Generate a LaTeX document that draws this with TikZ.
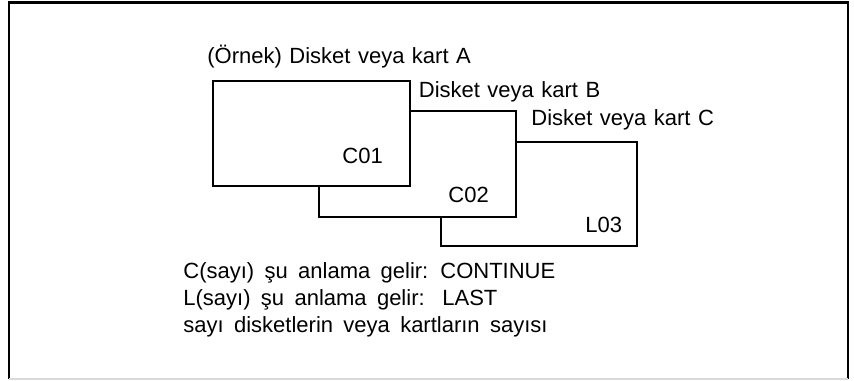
\documentclass[tikz,border=0pt]{standalone}
\usepackage{fontspec}
\setmainfont{Liberation Sans}
\newcommand\labfont{\fontsize{11}{13.5}\selectfont\spaceskip=0.34em\relax}
\newcommand\notefont{\fontsize{11}{13.5}\selectfont\spaceskip=0.47em\relax}
\begin{document}
\begin{tikzpicture}[x=0.5pt,y=-0.5pt,
 card/.style={draw,line width=1.3pt,fill=white},
 lab/.style={anchor=base west,inner sep=0pt,font=\labfont},
 note/.style={lab,font=\notefont}]
\useasboundingbox (0,0) rectangle (854,380);
% frame
\draw[line width=1.2pt] (9,379) -- (9,2.5) -- (848,2.5) -- (848,379);
\draw[black!15,line width=1pt] (9,379) -- (848,379);
% cards, back to front
\draw[card] (441,142) rectangle (637,246);
\draw[card] (319,111) rectangle (516,217);
\draw[card] (213,81) rectangle (410,186);
\node[lab] (labA) at (207,63) {(Örnek) Disket veya kart A};
\node[lab] (labB) at (418.5,97.5) {Disket veya kart B};
\node[lab] (labC) at (531,125) {Disket veya kart C};
\node[lab] (c01) at (342,163) {C01};
\node[lab] (c02) at (448,202) {C02};
\node[lab] (l03) at (585,232) {L03};
% notes
\node[note] (note1) at (183,278) {C(sayı) şu anlama gelir:};
\node[note] (cont) at (440,278) {CONTINUE};
\node[note] (note2) at (183,305) {L(sayı) şu anlama gelir:};
\node[note] (last) at (442,305) {LAST};
\node[note] (note3) at (183,332) {sayı disketlerin veya kartların sayısı};
\end{tikzpicture}
\end{document}
